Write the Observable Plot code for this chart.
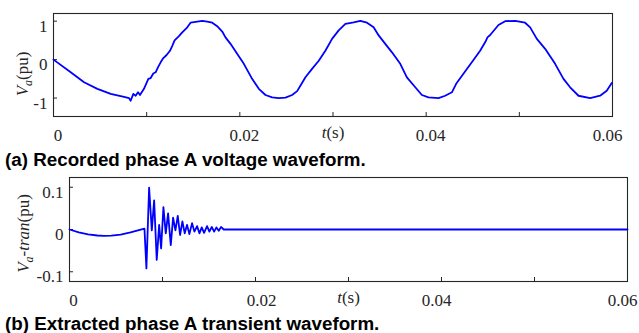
<!DOCTYPE html>
<html><head><meta charset="utf-8">
<script src="https://cdn.jsdelivr.net/npm/d3@7"></script>
<script src="https://cdn.jsdelivr.net/npm/@observablehq/plot@0.6"></script>
<style>
body{margin:0;background:#fff;}
#wrap{width:639px;height:333px;overflow:hidden;background:#fff;}
.cap{font-family:"Liberation Sans",Arial,sans-serif;font-weight:bold;font-size:18.8px;color:#000;padding-left:5px;white-space:nowrap;}
svg text{font-family:"Liberation Serif","Times New Roman",serif !important;}
</style></head><body><div id="wrap">
<div id="p1"></div>
<div class="cap" style="height:20px;line-height:20px">(a) Recorded phase A voltage waveform.</div>
<div id="p2"></div>
<div class="cap" style="height:18px;line-height:18px">(b) Extracted phase A transient waveform.</div>
</div>
<script>
// (a) recorded phase A voltage: time (s) and value (pu)
const timeA = [0,0.00185,0.00328,0.00471,0.00614,0.00757,0.0081,0.00828,0.00857,0.00882,0.00907,0.00928,0.00971,0.01018,0.01043,0.01071,0.01096,0.01121,0.0115,0.01179,0.01214,0.0125,0.01275,0.013,0.01346,0.01382,0.01436,0.01471,0.01543,0.01596,0.0165,0.01704,0.01757,0.01811,0.01846,0.019,0.01971,0.02043,0.02132,0.02204,0.02275,0.02347,0.02418,0.0249,0.02561,0.02615,0.0265,0.02704,0.02775,0.02847,0.02918,0.0299,0.03061,0.03133,0.03222,0.03293,0.03365,0.03436,0.0349,0.03561,0.03633,0.03722,0.03793,0.03883,0.03954,0.04025,0.04133,0.04204,0.04276,0.04322,0.044,0.0449,0.04579,0.04633,0.04658,0.04687,0.04776,0.04848,0.04955,0.05062,0.05116,0.05188,0.05277,0.05384,0.05474,0.05545,0.05635,0.0576,0.05867,0.05938,0.05992];
const voltA = [0,-0.33,-0.59,-0.76,-0.89,-0.97,-1.0,-1.07,-0.89,-0.94,-0.85,-0.92,-0.76,-0.5,-0.48,-0.36,-0.33,-0.2,-0.07,0.04,0.12,0.23,0.36,0.5,0.61,0.71,0.84,0.96,0.99,1.01,0.99,0.96,0.87,0.73,0.58,0.41,0.15,-0.11,-0.5,-0.76,-0.92,-0.98,-1.0,-0.99,-0.92,-0.82,-0.68,-0.46,-0.24,-0.03,0.23,0.54,0.76,0.93,0.97,1.01,0.96,0.84,0.63,0.41,0.19,-0.11,-0.46,-0.72,-0.92,-0.98,-1.0,-0.94,-0.85,-0.63,-0.37,-0.07,0.23,0.45,0.58,0.64,0.9,1.0,1.01,0.96,0.84,0.54,0.28,-0.11,-0.5,-0.72,-0.94,-1.0,-0.94,-0.81,-0.61];

// (b) extracted transient: time (s) and value (pu)
const timeB = [0,0.001,0.002,0.003,0.0037,0.0045,0.0055,0.00656,0.00806,0.00827,0.00856,0.00885,0.0091,0.00938,0.00964,0.00985,0.0101,0.01035,0.0106,0.01089,0.01114,0.01139,0.01164,0.01189,0.01214,0.01239,0.01264,0.01289,0.01318,0.01343,0.01372,0.01397,0.01422,0.01447,0.01479,0.01504,0.0153,0.01555,0.0158,0.01605,0.0163,0.01658,0.06];
const voltB = [0,-0.0066,-0.0113,-0.0142,-0.015,-0.0145,-0.012,-0.007,0.002,-0.092,0.099,-0.002,0.069,-0.072,0.011,-0.045,0.053,-0.009,0.038,-0.037,0.028,-0.002,0.032,-0.013,0.019,-0.009,0.011,-0.011,0.015,-0.005,0.008,-0.009,0.005,-0.008,0.008,-0.005,0.006,-0.005,0.005,-0.003,0.006,0,0];

const xTicks = [0,0.01,0.02,0.03,0.04,0.05,0.06];
const xTickLabels = [0,0.02,0.04,0.06];
const yTicksA = [-1,0,1];
const yTicksB = [-0.1,0,0.1];
const xLabelText = "t(s)";

const INK = "#262626";
const SERIF = '"Liberation Serif","Times New Roman",serif';
const fmt = d => String(d);

function chart({time, volt, yDomain, yTicks, height, mt, mb, ml, mr, labelDx, labelDy, xLabDx, ylab}) {
  const W = 639;
  const innerW = W - ml - mr, innerH = height - mt - mb;
  const idx = time.map((_, i) => i);
  const labelGroups = d3.groups(xTickLabels.map((d, i) => ({d, dx: xLabDx[i]})), e => e.dx);
  const ylabPlain = ylab.join("");
  const svg = Plot.plot({
    width: W, height,
    marginTop: mt, marginBottom: mb, marginLeft: ml, marginRight: mr,
    style: {fontFamily: SERIF, fontSize: "17px", color: INK, background: "#fff"},
    x: {domain: [0, 0.06]},
    y: {domain: yDomain},
    marks: [
      Plot.frame({stroke: INK, strokeWidth: 1.1}),
      Plot.ruleX(xTicks, {x: d => d, stroke: INK, insetTop: innerH - 4}),
      Plot.ruleY(yTicks, {y: d => d, stroke: INK, insetRight: innerW - 4}),
      Plot.line(idx, {x: i => time[i], y: i => volt[i], stroke: "#0000ff", strokeWidth: 1.8}),
      ...labelGroups.map(([dx, arr]) => Plot.axisX(arr.map(e => e.d), {tickSize: 0, tickPadding: 12, dx, tickFormat: fmt, fontSize: 17, fontFamily: SERIF, fontVariant: "normal", label: null})),
      Plot.axisY(yTicks, {tickSize: 0, tickPadding: 6, dy: 5, tickFormat: fmt, fontSize: 17, fontFamily: SERIF, fontVariant: "normal", label: null}),
      Plot.text([xLabelText], {text: d => d, frameAnchor: "bottom", textAnchor: "middle", dy: 21, fontSize: 17, fontFamily: SERIF, fill: INK}),
      Plot.text([ylabPlain], {text: d => d, frameAnchor: "left", textAnchor: "middle", rotate: -90, dx: labelDx, dy: labelDy, fontSize: 17, fontFamily: SERIF, fill: INK})
    ]
  });
  const root = d3.select(svg);
  root.selectAll("g").attr("font-family", SERIF);
  root.selectAll("text").style("font-family", SERIF);
  // rich formatting of axis labels (italic symbols, subscript)
  const xl = root.selectAll("text").filter(function() { return this.textContent === xLabelText; });
  xl.text(null);
  xl.append("tspan").attr("font-style", "italic").text("t");
  xl.append("tspan").text("(s)");
  const yl = root.selectAll("text").filter(function() { return this.textContent === ylabPlain; });
  yl.text(null);
  yl.append("tspan").attr("font-style", "italic").text(ylab[0]);
  yl.append("tspan").attr("font-style", "italic").attr("font-size", 12).attr("dy", 4).text(ylab[1]);
  yl.append("tspan").attr("dy", -4).text(ylab[2]);
  if (ylab.length > 3) {
    yl.append("tspan").attr("font-style", "italic").text(ylab[3]);
    yl.append("tspan").text(ylab[4]);
  }
  return svg;
}

document.getElementById("p1").append(chart({
  time: timeA, volt: voltA, yDomain: [-1.48, 1.2], yTicks: yTicksA,
  height: 150, mt: 13, mb: 34, ml: 53, mr: 27, labelDx: -31, labelDy: 9,
  xLabDx: [4.5, 4.5, 4.5, -5], ylab: ["V", "a", "(pu)"]
}));
document.getElementById("p2").append(chart({
  time: timeB, volt: voltB, yDomain: [-0.123, 0.123], yTicks: yTicksB,
  height: 145, mt: 7, mb: 34, ml: 69, mr: 12, labelDx: -46, labelDy: 4,
  xLabDx: [4, 6, -5, -5], ylab: ["V", "a", "-", "tran", "(pu)"]
}));
</script>
</body></html>
